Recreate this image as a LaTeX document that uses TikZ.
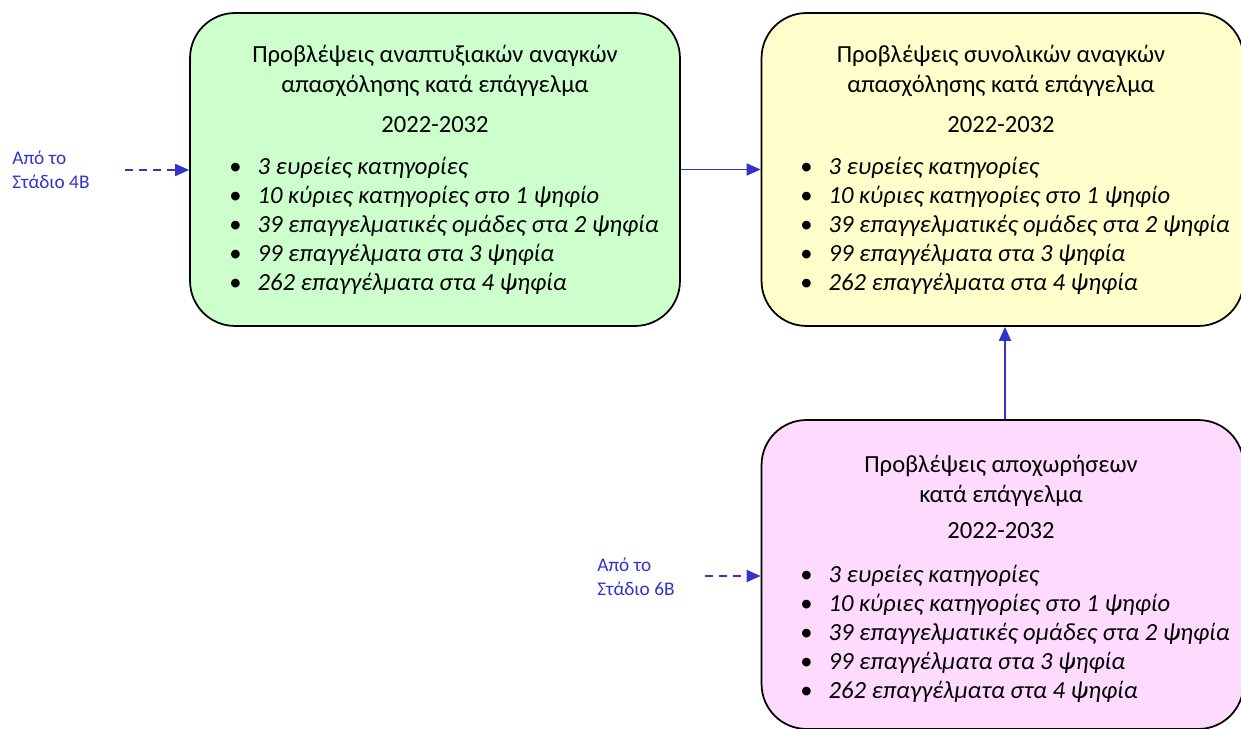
\documentclass[tikz,border=0pt]{standalone}
\usepackage{fontspec}
\setmainfont{Carlito}
\usetikzlibrary{positioning,arrows.meta}
\definecolor{boxgreen}{RGB}{204,255,204}
\definecolor{boxyellow}{RGB}{255,255,204}
\definecolor{boxpink}{RGB}{255,218,255}
\definecolor{linkblue}{RGB}{51,51,204}

\newcommand{\occlist}{%
  \textbullet\hspace{0.32cm}\textit{3 ευρείες κατηγορίες}\\
  \textbullet\hspace{0.32cm}\textit{10 κύριες κατηγορίες στο 1 ψηφίο}\\
  \textbullet\hspace{0.32cm}\textit{39 επαγγελματικές ομάδες στα 2 ψηφία}\\
  \textbullet\hspace{0.32cm}\textit{99 επαγγέλματα στα 3 ψηφία}\\
  \textbullet\hspace{0.32cm}\textit{262 επαγγέλματα στα 4 ψηφία}}

\tikzset{
  stagebox/.style={draw=black, line width=1pt, rounded corners=0.9cm, inner sep=0pt},
  headtext/.style={align=center, font=\fontsize{14}{17}\selectfont},
  listtext/.style={align=left, anchor=west, inner sep=0pt, font=\fontsize{14}{16.5}\selectfont},
  fromtext/.style={align=left, anchor=west, inner sep=0pt, text=linkblue, font=\fontsize{11}{13.7}\selectfont},
  flow/.style={linkblue, line width=1pt, -{Triangle[length=0.28cm,width=0.24cm]}},
  feed/.style={flow, dash pattern=on 0.16cm off 0.12cm},
}

\begin{document}
\begin{tikzpicture}[x=0.02cm, y=-0.02cm]
    \useasboundingbox (0,0) rectangle (1241,729);
    \clip (0,0) rectangle (1241,729);

    % growth needs
    \node[stagebox, fill=boxgreen, minimum width=9.8cm, minimum height=6.26cm] (green) at (435,169.5) {};
    \node[headtext] (greenhead) at (435,71) {Προβλέψεις αναπτυξιακών αναγκών\\απασχόλησης κατά επάγγελμα};
    \node[headtext] (greenyear) at (435,125) {2022-2032};
    \node[listtext] (greenlist) at (229,226) {\occlist};

    % total needs
    \node[stagebox, fill=boxyellow, minimum width=9.64cm, minimum height=6.26cm] (yellow) at (1002.5,169.5) {};
    \node[headtext] (yellowhead) at (1001,71) {Προβλέψεις συνολικών αναγκών\\απασχόλησης κατά επάγγελμα};
    \node[headtext] (yellowyear) at (1001,125) {2022-2032};
    \node[listtext] (yellowlist) at (800,226) {\occlist};

    % retirements
    \node[stagebox, fill=boxpink, minimum width=9.64cm, minimum height=6.18cm] (pink) at (1002.5,574.5) {};
    \node[headtext] (pinkhead) at (1001,480.5) {Προβλέψεις αποχωρήσεων\\κατά επάγγελμα};
    \node[headtext] (pinkyear) at (1001,531) {2022-2032};
    \node[listtext] (pinklist) at (800,634) {\occlist};

    % inputs from other stages
    \node[fromtext] (from4b) at (12,170) {Από το\\Στάδιο 4Β};
    \node[fromtext] (from6b) at (597,577) {Από το\\Στάδιο 6Β};
    \coordinate (feed4b) at (125,170);
    \coordinate (feed6b) at (705,576);

    \draw[feed] (feed4b) -- (feed4b -| green.west);
    \draw[feed] (feed6b) -- (feed6b -| pink.west);
    \draw[flow] (green.east) -- (yellow.west);
    \draw[flow] (pink.north -| 1005,0) -- (yellow.south -| 1005,0);
\end{tikzpicture}
\end{document}
